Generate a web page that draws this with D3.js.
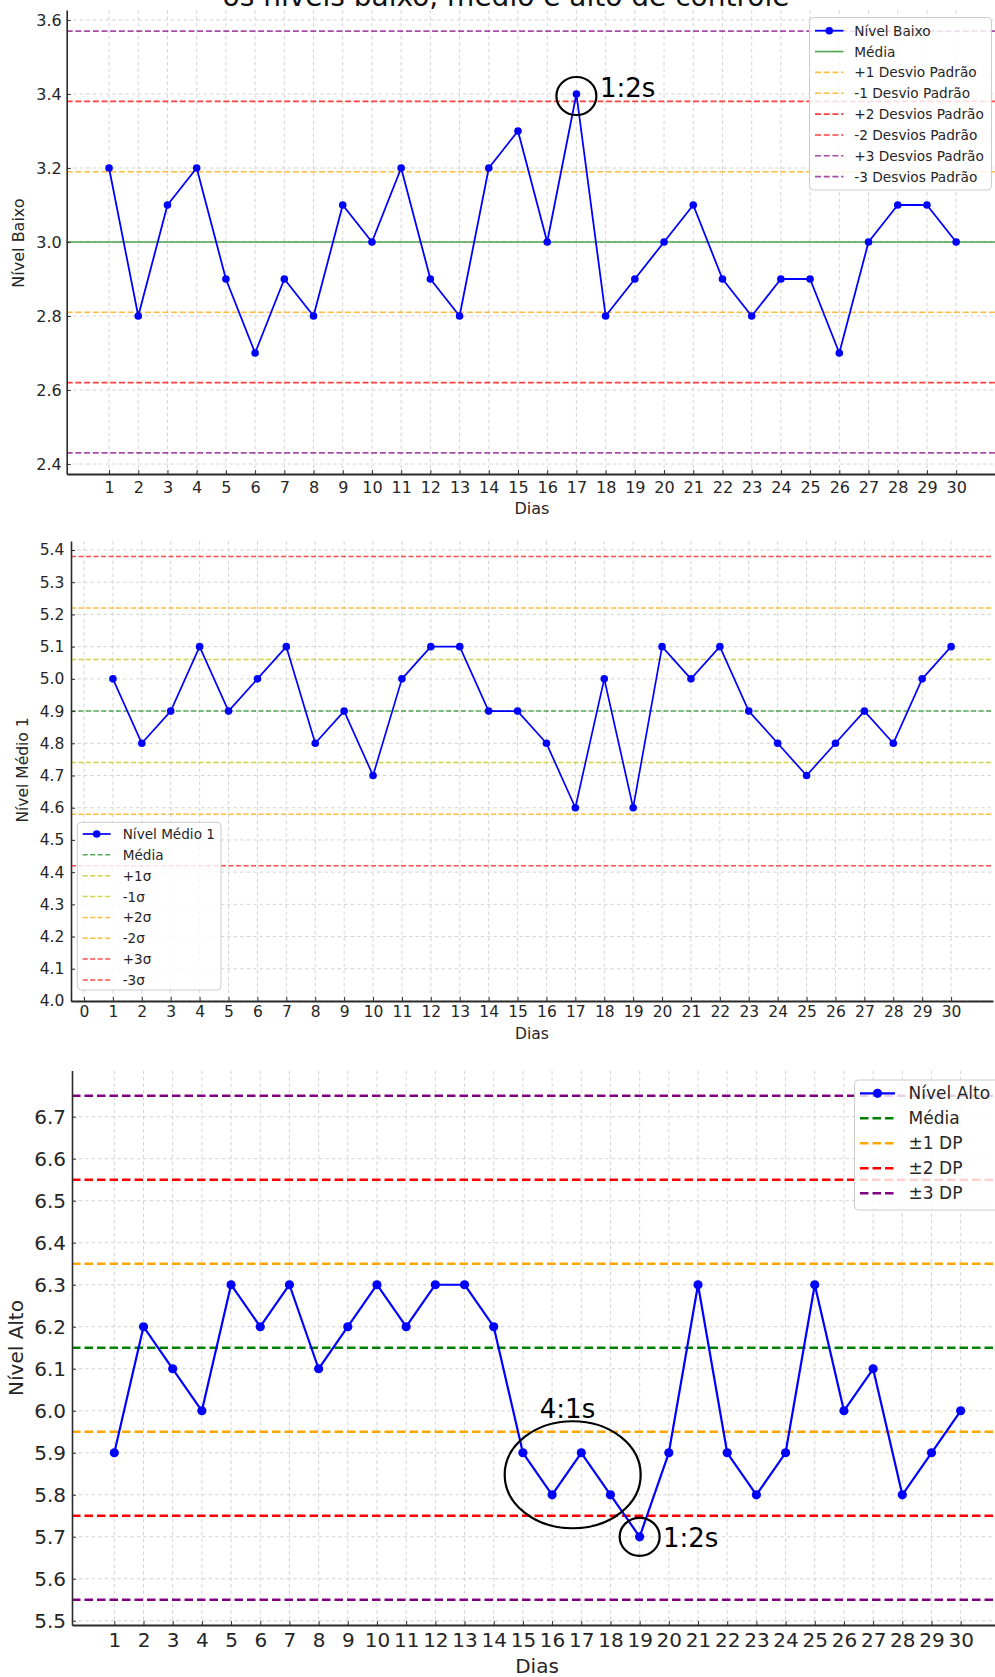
<!DOCTYPE html>
<html>
<head>
<meta charset="utf-8">
<script src="https://cdn.jsdelivr.net/npm/d3@7"></script>
<style>
  body { margin: 0; background: #ffffff; }
  svg { display: block; font-family: "DejaVu Sans", sans-serif; }
</style>
</head>
<body>
<svg id="chart" width="995" height="1677"></svg>
<script>
// ---- Data -------------------------------------------------------------
const dias = [1, 2, 3, 4, 5, 6, 7, 8, 9, 10, 11, 12, 13, 14, 15, 16, 17, 18, 19, 20, 21, 22, 23, 24, 25, 26, 27, 28, 29, 30];
const diasTicksMedio = [0, 1, 2, 3, 4, 5, 6, 7, 8, 9, 10, 11, 12, 13, 14, 15, 16, 17, 18, 19, 20, 21, 22, 23, 24, 25, 26, 27, 28, 29, 30];

const nivelBaixo = [3.2, 2.8, 3.1, 3.2, 2.9, 2.7, 2.9, 2.8, 3.1, 3.0, 3.2, 2.9, 2.8, 3.2, 3.3, 3.0, 3.4, 2.8, 2.9, 3.0, 3.1, 2.9, 2.8, 2.9, 2.9, 2.7, 3.0, 3.1, 3.1, 3.0];
const nivelMedio1 = [5.0, 4.8, 4.9, 5.1, 4.9, 5.0, 5.1, 4.8, 4.9, 4.7, 5.0, 5.1, 5.1, 4.9, 4.9, 4.8, 4.6, 5.0, 4.6, 5.1, 5.0, 5.1, 4.9, 4.8, 4.7, 4.8, 4.9, 4.8, 5.0, 5.1];
const nivelAlto = [5.9, 6.2, 6.1, 6.0, 6.3, 6.2, 6.3, 6.1, 6.2, 6.3, 6.2, 6.3, 6.3, 6.2, 5.9, 5.8, 5.9, 5.8, 5.7, 5.9, 6.3, 5.9, 5.8, 5.9, 6.3, 6.0, 6.1, 5.8, 5.9, 6.0];

// mean, then +1/-1, +2/-2, +3/-3 standard deviations
const baixoLimites = [3.0, 3.19, 2.81, 3.38, 2.62, 3.57, 2.43];
const medioLimites = [4.9, 5.06, 4.74, 5.22, 4.58, 5.38, 4.42];
const altoLimites = [6.15, 6.35, 5.95, 6.55, 5.75, 6.75, 5.55];

const baixoTicksY = [2.4, 2.6, 2.8, 3.0, 3.2, 3.4, 3.6];
const medioTicksY = [4.0, 4.1, 4.2, 4.3, 4.4, 4.5, 4.6, 4.7, 4.8, 4.9, 5.0, 5.1, 5.2, 5.3, 5.4];
const altoTicksY = [5.5, 5.6, 5.7, 5.8, 5.9, 6.0, 6.1, 6.2, 6.3, 6.4, 6.5, 6.6, 6.7];

const baixoLegenda = ["Nível Baixo", "Média", "+1 Desvio Padrão", "-1 Desvio Padrão", "+2 Desvios Padrão", "-2 Desvios Padrão", "+3 Desvios Padrão", "-3 Desvios Padrão"];
const medioLegenda = ["Nível Médio 1", "Média", "+1σ", "-1σ", "+2σ", "-2σ", "+3σ", "-3σ"];
const altoLegenda = ["Nível Alto", "Média", "±1 DP", "±2 DP", "±3 DP"];

const titulo = "os níveis baixo, médio e alto de controle";

// ---- Drawing ----------------------------------------------------------
const svg = d3.select("#chart");
const TXT = "#262626";
const BLUE = "#0000ff";

svg.append("rect").attr("width", 995).attr("height", 1677).attr("fill", "#ffffff");

function drawPanel(p) {
  const g = svg.append("g");
  const x = d3.scaleLinear().domain(p.xDom).range([p.left, p.right]);
  const y = d3.scaleLinear().domain(p.yDom).range([p.bottom, p.top]);

  const clipId = "clip-" + p.id;
  svg.append("clipPath").attr("id", clipId)
    .append("rect").attr("x", p.left).attr("y", p.top)
    .attr("width", p.right - p.left).attr("height", p.bottom - p.top);
  const plot = g.append("g").attr("clip-path", `url(#${clipId})`);

  // grid
  plot.selectAll("line.gx").data(p.xTicks).join("line").attr("class", "gx")
    .attr("x1", d => x(d)).attr("x2", d => x(d))
    .attr("y1", p.top).attr("y2", p.bottom)
    .attr("stroke", "#cfcfcf").attr("stroke-width", 0.9).attr("stroke-dasharray", "3.5,3");
  plot.selectAll("line.gy").data(p.yTicks).join("line").attr("class", "gy")
    .attr("x1", p.left).attr("x2", p.right)
    .attr("y1", d => y(d)).attr("y2", d => y(d))
    .attr("stroke", "#cfcfcf").attr("stroke-width", 0.9).attr("stroke-dasharray", "3.5,3");

  // control limits
  p.limites.forEach((v, i) => {
    const s = p.styles[i];
    plot.append("line")
      .attr("x1", p.left).attr("x2", p.right)
      .attr("y1", y(v)).attr("y2", y(v))
      .attr("stroke", s.color).attr("stroke-opacity", s.op)
      .attr("stroke-width", s.w).attr("stroke-dasharray", s.dash);
  });

  // series
  const line = d3.line().x((d, i) => x(dias[i])).y(d => y(d));
  plot.append("path").datum(p.values).attr("d", line)
    .attr("fill", "none").attr("stroke", BLUE).attr("stroke-width", p.lw)
    .attr("stroke-linejoin", "round");
  plot.selectAll("circle.pt").data(p.values).join("circle").attr("class", "pt")
    .attr("cx", (d, i) => x(dias[i])).attr("cy", d => y(d)).attr("r", p.r)
    .attr("fill", BLUE);

  // axes
  const ax = d3.axisBottom(x).tickValues(p.xTicks).tickFormat(d3.format("d"))
    .tickSizeInner(-4).tickSizeOuter(0).tickPadding(p.xPad);
  const gx = g.append("g").attr("transform", `translate(0,${p.bottom})`).call(ax);
  gx.select(".domain").attr("stroke", "#2a2a2a").attr("stroke-width", 2.2);
  gx.selectAll(".tick line").attr("stroke", "#333").attr("stroke-width", 1);
  gx.selectAll(".tick text").attr("fill", TXT).attr("font-size", p.fs)
    .attr("font-family", "DejaVu Sans");

  const ay = d3.axisLeft(y).tickValues(p.yTicks).tickFormat(d3.format(".1f"))
    .tickSizeInner(-4).tickSizeOuter(0).tickPadding(p.yPad);
  const gy = g.append("g").attr("transform", `translate(${p.left},0)`).call(ay);
  gy.select(".domain").attr("stroke", "#2a2a2a").attr("stroke-width", 1.6);
  gy.selectAll(".tick line").attr("stroke", "#333").attr("stroke-width", 1);
  gy.selectAll(".tick text").attr("fill", TXT).attr("font-size", p.fs)
    .attr("font-family", "DejaVu Sans");

  // axis titles
  g.append("text").attr("x", p.xLabelX).attr("y", p.xLabelY)
    .attr("text-anchor", "middle").attr("dominant-baseline", "central")
    .attr("font-size", p.labelFs).attr("fill", TXT).text("Dias");
  g.append("text")
    .attr("transform", `translate(${p.yLabelX},${p.yLabelY}) rotate(-90)`)
    .attr("text-anchor", "middle").attr("dominant-baseline", "central")
    .attr("font-size", p.labelFs).attr("fill", TXT).text(p.yLabel);

  // legend
  const L = p.legend;
  const lg = g.append("g");
  lg.append("rect").attr("x", L.x).attr("y", L.y).attr("width", L.w).attr("height", L.h)
    .attr("rx", 4).attr("fill", "#ffffff").attr("fill-opacity", 0.82)
    .attr("stroke", "#cccccc").attr("stroke-width", 1);
  p.legendLabels.forEach((lab, i) => {
    const cy = L.y0 + i * L.dy;
    if (i === 0) {
      lg.append("line").attr("x1", L.hx1).attr("x2", L.hx2).attr("y1", cy).attr("y2", cy)
        .attr("stroke", BLUE).attr("stroke-width", p.lw);
      lg.append("circle").attr("cx", (L.hx1 + L.hx2) / 2).attr("cy", cy).attr("r", p.r).attr("fill", BLUE);
    } else {
      const s = p.styles[L.styleIdx[i - 1]];
      lg.append("line").attr("x1", L.hx1).attr("x2", L.hx2).attr("y1", cy).attr("y2", cy)
        .attr("stroke", s.color).attr("stroke-opacity", s.op)
        .attr("stroke-width", s.w).attr("stroke-dasharray", s.dash);
    }
    lg.append("text").attr("x", L.tx).attr("y", cy).attr("dominant-baseline", "central")
      .attr("font-size", L.fs).attr("fill", TXT).text(lab);
  });

  return { x, y };
}

function estilo(color, op, w, dash) { return { color, op, w, dash }; }

// Nível Baixo
const sb = [
  estilo("#008000", 0.7, 1.6, null),
  estilo("#ffa500", 0.75, 1.6, "6,2.7"), estilo("#ffa500", 0.75, 1.6, "6,2.7"),
  estilo("#ff0000", 0.75, 1.6, "6,2.7"), estilo("#ff0000", 0.75, 1.6, "6,2.7"),
  estilo("#800080", 0.7, 1.6, "6,2.7"), estilo("#800080", 0.7, 1.6, "6,2.7")
];
const p1 = drawPanel({
  id: "baixo", left: 66.7, right: 998.5, top: 10, bottom: 474,
  xDom: [-0.45, 31.45], yDom: [2.373, 3.627],
  xTicks: dias, yTicks: baixoTicksY, values: nivelBaixo,
  limites: baixoLimites, styles: sb, lw: 1.8, r: 3.8,
  fs: 16, xPad: 7.5, yPad: 5, labelFs: 16,
  xLabelX: 532, xLabelY: 508, yLabelX: 18, yLabelY: 243, yLabel: "Nível Baixo",
  legendLabels: baixoLegenda,
  legend: { x: 809.5, y: 17.5, w: 182, h: 172.5, y0: 30.7, dy: 20.85, hx1: 815, hx2: 843.5, tx: 854.3, fs: 13.7,
            styleIdx: [0, 1, 2, 3, 4, 5, 6] }
});

// Nível Médio 1
const sm = [
  estilo("#008000", 0.65, 1.5, "5,2.5"),
  estilo("#bfbf00", 0.7, 1.5, "5,2.5"), estilo("#bfbf00", 0.7, 1.5, "5,2.5"),
  estilo("#ffa500", 0.75, 1.5, "5,2.5"), estilo("#ffa500", 0.75, 1.5, "5,2.5"),
  estilo("#ff0000", 0.7, 1.5, "5,2.5"), estilo("#ff0000", 0.7, 1.5, "5,2.5")
];
const p2 = drawPanel({
  id: "medio", left: 71, right: 993, top: 541, bottom: 1001,
  xDom: [-0.45, 31.45], yDom: [4.0, 5.428],
  xTicks: diasTicksMedio, yTicks: medioTicksY, values: nivelMedio1,
  limites: medioLimites, styles: sm, lw: 1.7, r: 3.8,
  fs: 15.5, xPad: 5.3, yPad: 6.7, labelFs: 15.5,
  xLabelX: 532, xLabelY: 1034, yLabelX: 23, yLabelY: 770, yLabel: "Nível Médio 1",
  legendLabels: medioLegenda,
  legend: { x: 77.3, y: 822.3, w: 143.7, h: 167.7, y0: 834, dy: 20.85, hx1: 82.7, hx2: 110.7, tx: 122.7, fs: 13.6,
            styleIdx: [0, 1, 2, 3, 4, 5, 6] }
});

// Nível Alto
const sa = [
  estilo("#008000", 1, 2.6, "8.5,4"),
  estilo("#ffa500", 1, 2.6, "8.5,4"), estilo("#ffa500", 1, 2.6, "8.5,4"),
  estilo("#ff0000", 1, 2.6, "8.5,4"), estilo("#ff0000", 1, 2.6, "8.5,4"),
  estilo("#800080", 1, 2.6, "8.5,4"), estilo("#800080", 1, 2.6, "8.5,4")
];
const p3 = drawPanel({
  id: "alto", left: 72, right: 1003, top: 1070.5, bottom: 1625,
  xDom: [-0.45, 31.45], yDom: [5.49, 6.81],
  xTicks: dias, yTicks: altoTicksY, values: nivelAlto,
  limites: altoLimites, styles: sa, lw: 2.2, r: 4.6,
  fs: 20, xPad: 8, yPad: 6, labelFs: 20,
  xLabelX: 537, xLabelY: 1666, yLabelX: 16, yLabelY: 1348, yLabel: "Nível Alto",
  legendLabels: altoLegenda,
  legend: { x: 854.5, y: 1080, w: 150, h: 130, y0: 1093.3, dy: 25, hx1: 860, hx2: 895, tx: 908.6, fs: 17,
            styleIdx: [0, 1, 3, 5] }
});

// title (second line, partly above the page edge)
svg.append("text").attr("x", 506).attr("y", 6).attr("text-anchor", "middle")
  .attr("font-size", 28).attr("fill", "#111").text(titulo);

// Westgard rule annotations
function anotaCirculo(pn, dia, valor, rx, ry, dx, dy) {
  svg.append("ellipse")
    .attr("cx", pn.x(dia) + dx).attr("cy", pn.y(valor) + dy)
    .attr("rx", rx).attr("ry", ry)
    .attr("fill", "none").attr("stroke", "#000").attr("stroke-width", 2.2);
}
function anotaTexto(x, y, txt, anchor) {
  svg.append("text").attr("x", x).attr("y", y).attr("text-anchor", anchor || "start")
    .attr("font-size", 26).attr("fill", "#000").text(txt);
}

anotaCirculo(p1, 17, 3.4, 20, 19, 0, 2);
anotaTexto(600, 97, "1:2s");

anotaCirculo(p3, 16.5, 5.85, 68, 53.5, 6, 1);
anotaTexto(567.5, 1418, "4:1s", "middle");
anotaCirculo(p3, 19, 5.7, 20, 19, 0, 0);
anotaTexto(663, 1547, "1:2s");
</script>
</body>
</html>
